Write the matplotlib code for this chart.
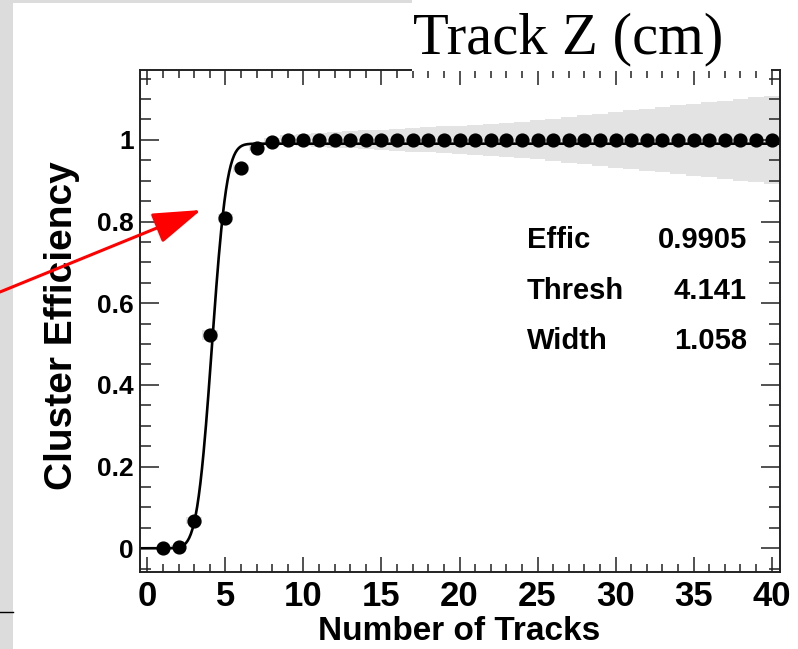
import numpy as np
import matplotlib
matplotlib.use('Agg')
import matplotlib.pyplot as plt
from matplotlib.patches import Rectangle, FancyArrowPatch, ArrowStyle
from matplotlib.ticker import MultipleLocator, FixedLocator
from math import erf

plt.rcParams['font.family'] = ['Liberation Sans', 'DejaVu Sans']
plt.rcParams['font.weight'] = 'bold'

# data
n_tracks = list(range(1, 41))
effic = [0.0, 0.004, 0.068, 0.522, 0.808, 0.930, 0.979, 0.995] + [1.0] * 32
effic_err = [0.0, 0.003, 0.008, 0.012, 0.010, 0.008, 0.006, 0.010,
             0.012, 0.015, 0.017, 0.019, 0.021, 0.023, 0.025, 0.027,
             0.029, 0.031, 0.033, 0.035, 0.037, 0.039, 0.041, 0.044,
             0.048, 0.052, 0.056, 0.060, 0.064, 0.068, 0.072, 0.076,
             0.080, 0.084, 0.088, 0.092, 0.096, 0.100, 0.104, 0.107]

# fit parameters shown in the stats box
fit_names = ['Effic', 'Thresh', 'Width']
fit_values = [0.9905, 4.141, 1.058]
fit_labels = ['0.9905', '4.141', '1.058']

W, H = 798, 649
fig = plt.figure(figsize=(W / 100, H / 100), dpi=100)
ax = fig.add_axes([139.5 / W, 1 - 571.7 / H, (779.5 - 139.5) / W, (571.7 - 70) / H])

x = np.array(n_tracks, dtype=float)
y = np.array(effic)
e = np.array(effic_err)

# error band, one box per bin
xe = np.concatenate([x - 0.5, [x[-1] + 0.5]])
ax.fill_between(xe, np.append(y - e, y[-1] - e[-1]), np.append(y + e, y[-1] + e[-1]),
                step='post', color='#e3e3e3', lw=0, zorder=1)

# fit curve
eff, thr, wid = fit_values
xf = np.linspace(-0.5, 40.5, 800)
yf = [eff * 0.5 * (1 + erf((v - thr) / wid)) for v in xf]
ax.plot(xf, yf, color='black', lw=1.9, zorder=2)

ax.plot(x, y, 'o', color='black', ms=9.2, zorder=3)

ax.set_xlim(-0.5, 40.5)
ax.set_ylim(-0.0573, 1.1709)

ax.xaxis.set_major_locator(FixedLocator([0, 5, 10, 15, 20, 25, 30, 35, 40]))
ax.xaxis.set_minor_locator(MultipleLocator(1))
ax.yaxis.set_major_locator(FixedLocator([0, 0.2, 0.4, 0.6, 0.8, 1.0]))
ax.yaxis.set_minor_locator(MultipleLocator(0.05))
ax.set_yticklabels(['0', '0.2', '0.4', '0.6', '0.8', '1'])

ax.tick_params(axis='both', which='both', direction='in', top=True, right=True, colors='#222222')
ax.tick_params(axis='y', which='major', length=14, width=1.1, labelsize=19, pad=4)
ax.tick_params(axis='y', which='minor', length=8, width=1.1)
ax.tick_params(axis='x', which='major', length=11, width=1.1, labelsize=25, pad=6)
ax.tick_params(axis='x', which='minor', length=5.5, width=1.1)
for lab in ax.get_xticklabels() + ax.get_yticklabels():
    lab.set_color('black')
    lab.set_fontweight('bold')
for s in ax.spines.values():
    s.set_linewidth(1.4)
    s.set_color('#222222')

ax.set_xlabel('Number of Tracks', fontsize=24, fontweight='bold', va='baseline')
ax.xaxis.set_label_coords(0.5, (571.7 - 640.5) / 501.7)
ax.set_ylabel('Cluster Efficiency', fontsize=28, fontweight='bold', va='center')
ax.yaxis.set_label_coords((62 - 139.5) / 640, 0.49)

# stats box
for i, (nm, lb) in enumerate(zip(fit_names, fit_labels)):
    yy = 1 - (240 + 50.7 * i) / H
    fig.text(527 / W, yy, nm, fontsize=21, fontweight='bold', va='center', ha='left')
    fig.text(747 / W, yy, lb, fontsize=21, fontweight='bold', va='center', ha='right')

# surrounding screenshot bits
fig.patches.append(Rectangle((0, 0), 13 / W, 1, transform=fig.transFigure,
                             facecolor='#dcdcdc', edgecolor='none', zorder=1))
fig.patches.append(Rectangle((0, 1 - 3 / H), 412 / W, 3 / H, transform=fig.transFigure,
                             facecolor='#dcdcdc', edgecolor='none', zorder=1))
fig.lines.append(plt.Line2D([0, 13 / W], [1 - 612 / H, 1 - 612 / H], transform=fig.transFigure,
                            color='black', lw=1))
fig.patches.append(Rectangle((412 / W, 1 - 71 / H), 359 / W, 71 / H, transform=fig.transFigure,
                             facecolor='white', edgecolor='none', zorder=1))
fig.text(413 / W, 1 - 53 / H, 'Track Z (cm)', fontsize=42.2, fontweight='normal',
         family=['Liberation Serif'], va='baseline', ha='left', zorder=2)

arrow = FancyArrowPatch((0, H - 292), (201, H - 210), transform=None,
                        arrowstyle=ArrowStyle('-|>', head_length=30, head_width=9.8),
                        color='red', lw=2.2, shrinkA=0, shrinkB=0, zorder=5)
fig.patches.append(arrow)

fig.savefig('out.png', dpi=100)
